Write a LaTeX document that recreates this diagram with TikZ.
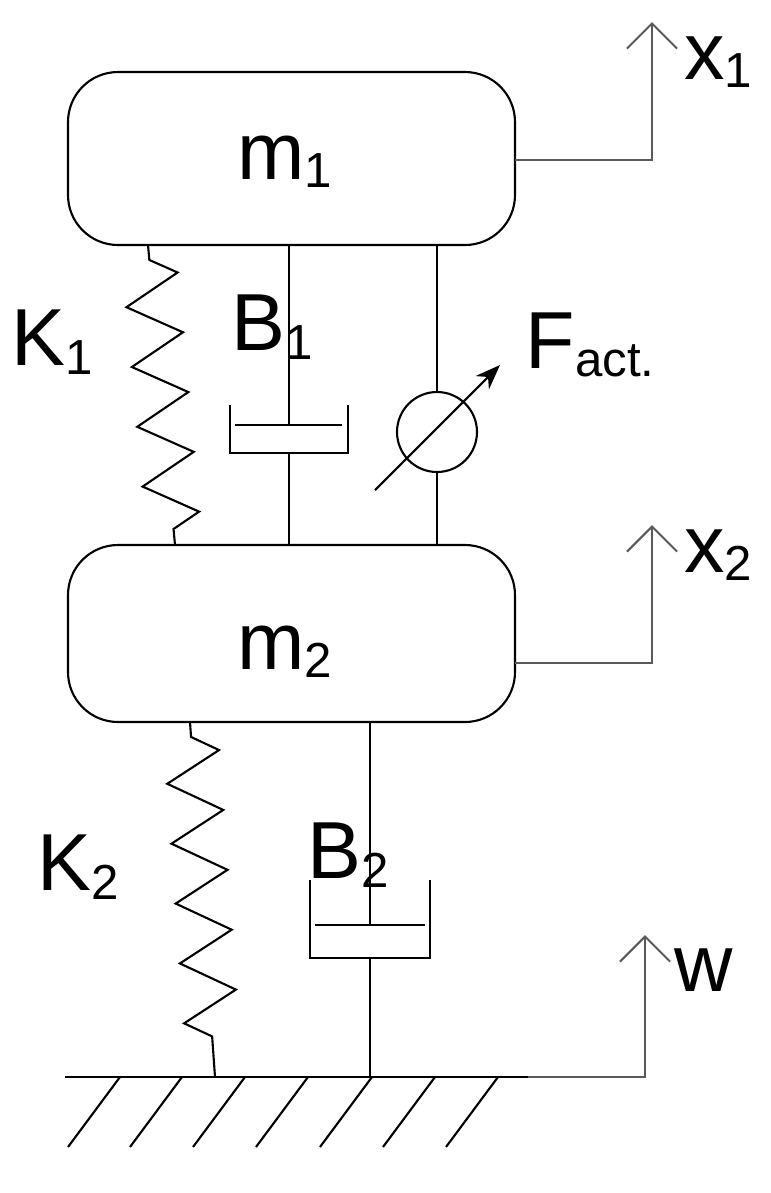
\documentclass[tikz,border=0pt]{standalone}
\usepackage{fontspec}
\setmainfont{Liberation Sans}
\usetikzlibrary{decorations.pathmorphing,arrows.meta}
\newcommand{\lbl}[2]{{\fontsize{23}{23}\selectfont #1}\raisebox{-.45ex}{\fontsize{14}{14}\selectfont #2}}
\tikzset{
  mass/.style={draw, rounded corners=0.5cm},
  spring/.style={decorate, decoration={zigzag, segment length=0.6cm, amplitude=0.27cm, pre length=0.15cm, post length=0.15cm}},
  disp/.style={gray!70!black, -{Straight Barb[length=2.5mm]}},
  txt/.style={inner sep=0pt}
}
\begin{document}
\begin{tikzpicture}[x=0.01cm, y=-0.01cm, semithick]
\useasboundingbox (0,0) rectangle (771,1193);
% masses
\draw[mass] (68,72) rectangle (515,245);
\draw[mass] (68,545) rectangle (515,722);
\node[txt] (m1) at (285,162) {\lbl{m}{1}};
\node[txt] (m2) at (285,652) {\lbl{m}{2}};
% displacements
\draw[disp] (515,160) -- (652,160) -- (652,22);
\draw[disp] (515,663) -- (652,663) -- (652,525);
\draw[disp] (528,1077) -- (645,1077) -- (645,935);
\node[txt] (x1) at (718,62) {\lbl{x}{1}};
\node[txt] (x2) at (718,555) {\lbl{x}{2}};
\node[txt] (w) at (704,970) {\fontsize{23}{23}\selectfont w};
% ground
\draw (65,1077) -- (528,1077);
\foreach \x in {120,182,245,308,372,435,498}
  \draw (\x,1077) -- (\x-52,1147);
% upper suspension
\draw[spring] (148,245) -- (175,545);
\node[txt] (K1) at (52,342) {\lbl{K}{1}};
\draw (289,245) -- (289,425);
\draw (230,405) -- (230,453) -- (348,453) -- (348,405);
\draw (235,425) -- (342,425);
\draw (289,453) -- (289,545);
\node[txt] (B1) at (272,327) {\lbl{B}{1}};
\draw (437,245) -- (437,392);
\draw (437,432) circle (40);
\draw (437,472) -- (437,545);
\draw[-{Stealth[length=2.5mm]}] (375,490) -- (500,365);
\node[txt] (F) at (590,345) {\lbl{F}{act.}};
% lower suspension
\draw[spring] (190,722) -- (215,1077);
\node[txt] (K2) at (78,867) {\lbl{K}{2}};
\draw (370,722) -- (370,925);
\draw (310,880) -- (310,958) -- (430,958) -- (430,880);
\draw (315,925) -- (425,925);
\draw (370,958) -- (370,1077);
\node[txt] (B2) at (348,855) {\lbl{B}{2}};
\end{tikzpicture}
\end{document}
